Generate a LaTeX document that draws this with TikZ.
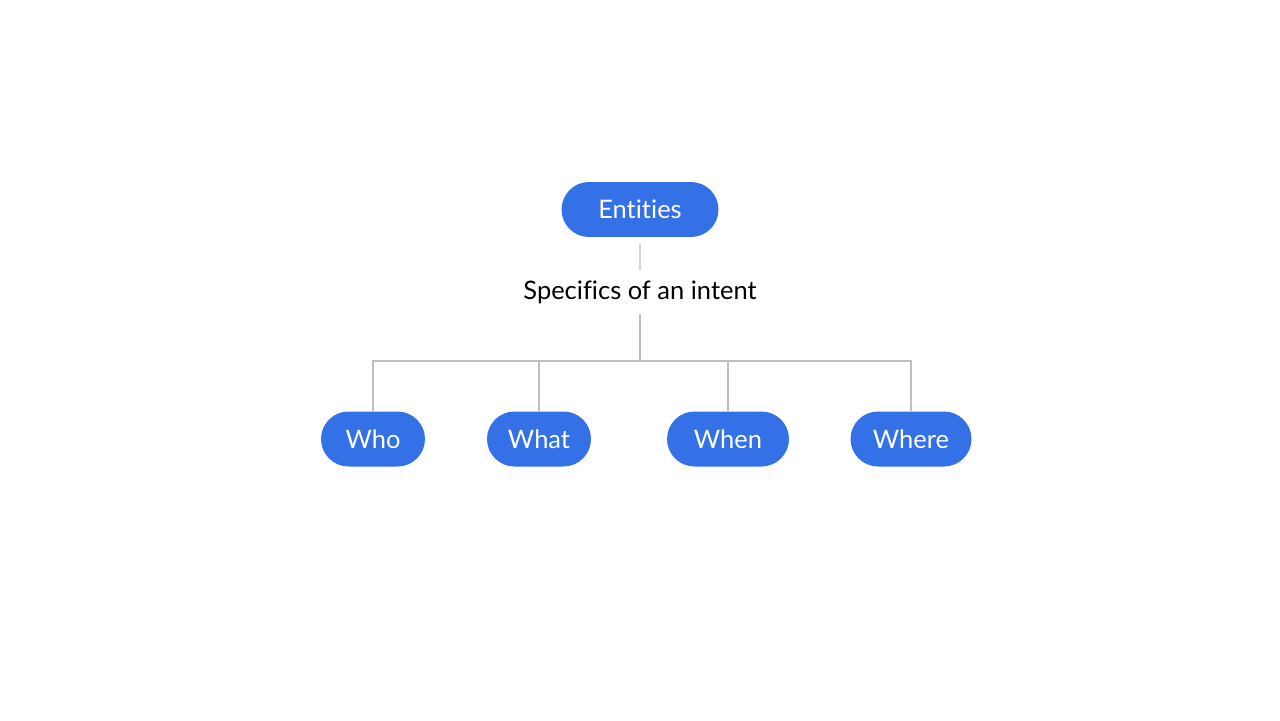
\documentclass[tikz,border=0pt]{standalone}
\usepackage{fontspec}
\setmainfont{Lato}[Ligatures=NoCommon]
\usetikzlibrary{shapes.misc}
\definecolor{pillblue}{RGB}{52,112,230}
\definecolor{linegray}{RGB}{190,190,195}

\begin{document}
\begin{tikzpicture}[x=0.02cm,y=-0.02cm,
    pill/.style={rounded rectangle,fill=pillblue,text=white,minimum height=1.1cm,inner sep=0pt,font=\fontsize{14.5}{16}\selectfont},
    conn/.style={draw=linegray,line width=0.8pt}]
        \useasboundingbox (0,0) rectangle (1280,720);
        \node[pill,minimum width=3.14cm] (ent) at (640,209.5) {Entities};
        \node[minimum height=0.86cm,inner sep=0pt,font=\fontsize{14.5}{16}\selectfont] (spec) at (640,292) {Specifics of an intent};
        \coordinate (bar) at (640,361);
        \node[pill,minimum width=2.08cm] (who) at (373,439) {Who};
        \node[pill,minimum width=2.08cm] (what) at (539,439) {What};
        \node[pill,minimum width=2.44cm] (when) at (728,439) {When};
        \node[pill,minimum width=2.42cm] (where) at (911,439) {Where};
        \draw[conn,shorten <=0.12cm] (ent) -- (spec);
        \draw[conn] (spec) -- (bar);
        \draw[conn] (who.north) |- (bar) -| (where.north);
        \draw[conn] (bar) -| (what.north);
        \draw[conn] (bar) -| (when.north);
\end{tikzpicture}
\end{document}
